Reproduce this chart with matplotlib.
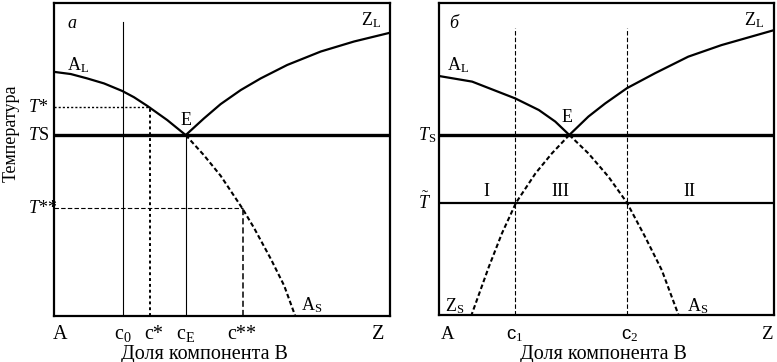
import numpy as np
import matplotlib
matplotlib.use("Agg")
import matplotlib.pyplot as plt

plt.rcParams['font.family'] = ['Liberation Serif', 'DejaVu Serif']
plt.rcParams['mathtext.fontset'] = 'custom'
plt.rcParams['mathtext.rm'] = 'Liberation Serif'
plt.rcParams['mathtext.it'] = 'Liberation Serif:italic'

# --- panel a (fractions of axis: composition 0..1, temperature 0..1)
a_liq_A_x = [0.0, 0.05, 0.099, 0.149, 0.203, 0.238, 0.278, 0.337, 0.392]
a_liq_A_y = [0.780, 0.773, 0.759, 0.743, 0.719, 0.699, 0.671, 0.626, 0.578]
a_liq_Z_x = [0.392, 0.446, 0.496, 0.556, 0.615, 0.694, 0.794, 0.893, 1.0]
a_liq_Z_y = [0.578, 0.631, 0.677, 0.722, 0.759, 0.802, 0.845, 0.877, 0.905]
a_sol_A_x = [0.392, 0.446, 0.496, 0.5605, 0.595, 0.645, 0.685, 0.718]
a_sol_A_y = [0.578, 0.514, 0.448, 0.344, 0.282, 0.183, 0.097, 0.0]
a_Ts = 0.578
a_Tstar, a_cstar = 0.667, 0.286
a_T2star, a_c2star = 0.344, 0.5625
a_c0, a_cE = 0.205, 0.392
a_c0_top = 0.939

# --- panel б
b_liq_A_x = [0.0, 0.099, 0.228, 0.298, 0.347, 0.389]
b_liq_A_y = [0.766, 0.748, 0.694, 0.657, 0.620, 0.577]
b_liq_Z_x = [0.389, 0.446, 0.496, 0.561, 0.645, 0.744, 0.843, 1.0]
b_liq_Z_y = [0.577, 0.636, 0.678, 0.727, 0.775, 0.828, 0.865, 0.913]
b_sol_Z_x = [0.389, 0.337, 0.288, 0.230, 0.188, 0.149, 0.097]
b_sol_Z_y = [0.577, 0.518, 0.454, 0.360, 0.262, 0.155, 0.0]
b_sol_A_x = [0.389, 0.446, 0.506, 0.561, 0.615, 0.665, 0.715]
b_sol_A_y = [0.577, 0.518, 0.443, 0.360, 0.251, 0.144, 0.0]
b_Ts = 0.577
b_Ttil = 0.36
b_c1, b_c2 = 0.226, 0.561
b_vtop = 0.92

W, H = 777, 362
fig = plt.figure(figsize=(W / 100, H / 100), dpi=100)
axA = fig.add_axes([54 / W, (H - 316) / H, 336 / W, 313 / H])
axB = fig.add_axes([439 / W, (H - 315) / H, 335 / W, 312 / H])

fs = 13      # labels inside panels
fs_ax = 14.5  # tick labels and axis titles
for ax in (axA, axB):
    ax.set_xlim(0, 1)
    ax.set_ylim(0, 1)
    ax.set_xticks([])
    ax.set_yticks([])
    for s in ax.spines.values():
        s.set_linewidth(1.6)

dash = (0, (2.2, 1.3))

# panel a
axA.plot(a_liq_A_x, a_liq_A_y, color='k', lw=1.6)
axA.plot(a_liq_Z_x, a_liq_Z_y, color='k', lw=1.6)
axA.plot(a_sol_A_x, a_sol_A_y, color='k', lw=1.5, ls=dash)
axA.axhline(a_Ts, color='k', lw=2.4)
axA.plot([a_c0, a_c0], [0, a_c0_top], color='k', lw=0.8)
axA.plot([a_cE, a_cE], [0, a_Ts], color='k', lw=0.8)
axA.plot([0, a_cstar], [a_Tstar, a_Tstar], color='k', lw=1.0, ls=(0, (1.5, 1.5)))
axA.plot([a_cstar, a_cstar], [0, a_Tstar], color='k', lw=1.4, ls=(0, (1.5, 1.5)))
axA.plot([0, a_c2star], [a_T2star, a_T2star], color='k', lw=0.8, ls=(0, (4, 2)))
axA.plot([a_c2star, a_c2star], [0, a_T2star], color='k', lw=1.1, ls=(0, (4, 2)))

# panel б
axB.plot(b_liq_A_x, b_liq_A_y, color='k', lw=1.6)
axB.plot(b_liq_Z_x, b_liq_Z_y, color='k', lw=1.6)
axB.plot(b_sol_Z_x, b_sol_Z_y, color='k', lw=1.5, ls=dash)
axB.plot(b_sol_A_x, b_sol_A_y, color='k', lw=1.5, ls=dash)
axB.axhline(b_Ts, color='k', lw=2.4)
axB.axhline(b_Ttil, color='k', lw=1.6)
for c in (b_c1, b_c2):
    axB.plot([c, c], [0, b_vtop], color='k', lw=0.8, ls=(0, (4, 2)))


def px(x, y, s, **kw):
    # place text by figure pixel position
    kw.setdefault('fontsize', fs)
    fig.text(x / W, 1 - y / H, s, **kw)


# x labels along bottom (baseline aligned)
xt = axA.get_xaxis_transform()
for x, s in [(0.018, 'A'), (a_c0, r'c$_0$'), (a_cstar + 0.01, 'c*'),
             (a_cE, r'c$_\mathrm{E}$'), (a_c2star - 0.003, 'c**'), (0.965, 'Z')]:
    axA.text(x, -0.074, s, transform=xt, ha='center', va='baseline', fontsize=fs_ax)
xt = axB.get_xaxis_transform()
for x, s, fam in [(0.025, 'A', None), (b_c1, r'c$_1$', 'Liberation Sans'),
                  (b_c2 + 0.008, r'c$_2$', 'Liberation Sans'), (0.978, 'Z', None)]:
    kw = {}
    if fam:
        kw['family'] = fam
    axB.text(x, -0.077, s, transform=xt, ha='center', va='baseline', fontsize=fs_ax - 1, **kw)

px(204, 354, 'Доля компонента В', ha='center', va='center', fontsize=fs_ax)
px(603, 354, 'Доля компонента В', ha='center', va='center', fontsize=fs_ax)
px(11, 133, 'Температура', ha='center', va='center', rotation=90)

# y labels
yt = axA.get_yaxis_transform()
for y, s in [(a_Tstar, r'$T$*'), (a_Ts, r'$T$S'), (a_T2star, r'$T$**')]:
    axA.text(-0.077, y, s, transform=yt, ha='left', va='center', fontsize=fs)
yt = axB.get_yaxis_transform()
for y, s in [(b_Ts, r'$T_\mathrm{S}$'), (b_Ttil, r'$\tilde{T}$')]:
    axB.text(-0.063, y, s, transform=yt, ha='left', va='center', fontsize=fs)

# labels inside panels
px(67, 24, 'а', style='italic', va='center')
px(67, 65, r'A$_\mathrm{L}$', va='center')
px(361, 20, r'Z$_\mathrm{L}$', va='center')
px(181, 120, 'E', va='center')
px(301, 305, r'A$_\mathrm{S}$', va='center')

px(449, 24, 'б', style='italic', va='center')
px(447, 65, r'A$_\mathrm{L}$', va='center')
px(744, 20, r'Z$_\mathrm{L}$', va='center')
px(562, 117, 'E', va='center')
px(486, 192, 'I', ha='center', va='center')
px(560, 192, 'III', ha='center', va='center')
px(689, 192, 'II', ha='center', va='center')
px(445, 306, r'Z$_\mathrm{S}$', va='center')
px(687, 306, r'A$_\mathrm{S}$', va='center')

fig.savefig('out.png', dpi=100)
